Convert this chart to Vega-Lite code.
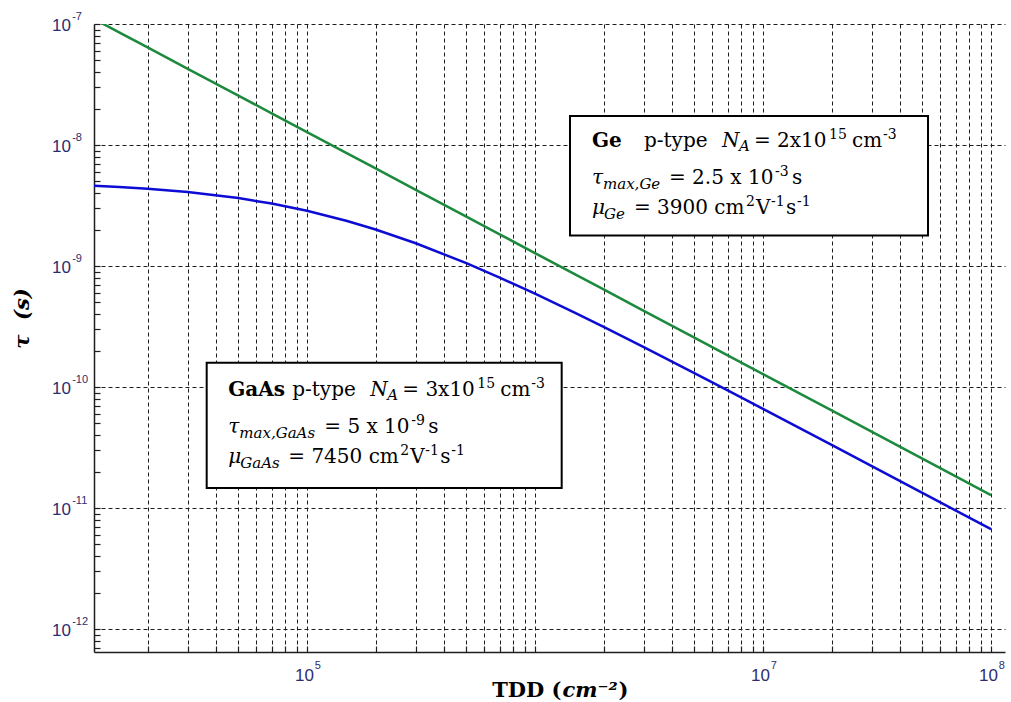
{
  "$schema": "https://vega.github.io/schema/vega-lite/v6.json",
  "width": 911,
  "height": 628,
  "autosize": {"type": "none"},
  "padding": {"left": 94, "top": 24, "right": 6, "bottom": 50},
  "background": "white",
  "config": {"view": {"stroke": null}},
  "data": {
    "values": [
      {"material": "Ge", "tdd": 11640, "tau": 1.0993e-7},
      {"material": "Ge", "tdd": 15000, "tau": 8.531e-8},
      {"material": "Ge", "tdd": 20000, "tau": 6.398e-8},
      {"material": "Ge", "tdd": 30000, "tau": 4.265e-8},
      {"material": "Ge", "tdd": 50000, "tau": 2.559e-8},
      {"material": "Ge", "tdd": 70000, "tau": 1.828e-8},
      {"material": "Ge", "tdd": 100000, "tau": 1.2796e-8},
      {"material": "Ge", "tdd": 150000, "tau": 8.531e-9},
      {"material": "Ge", "tdd": 200000, "tau": 6.398e-9},
      {"material": "Ge", "tdd": 300000, "tau": 4.265e-9},
      {"material": "Ge", "tdd": 500000, "tau": 2.559e-9},
      {"material": "Ge", "tdd": 700000, "tau": 1.828e-9},
      {"material": "Ge", "tdd": 1000000, "tau": 1.2796e-9},
      {"material": "Ge", "tdd": 1500000, "tau": 8.531e-10},
      {"material": "Ge", "tdd": 2000000, "tau": 6.398e-10},
      {"material": "Ge", "tdd": 3000000, "tau": 4.265e-10},
      {"material": "Ge", "tdd": 5000000, "tau": 2.559e-10},
      {"material": "Ge", "tdd": 7000000, "tau": 1.828e-10},
      {"material": "Ge", "tdd": 10000000, "tau": 1.2796e-10},
      {"material": "Ge", "tdd": 20000000, "tau": 6.398e-11},
      {"material": "Ge", "tdd": 50000000, "tau": 2.559e-11},
      {"material": "Ge", "tdd": 100000000, "tau": 1.2796e-11},
      {"material": "GaAs", "tdd": 11640, "tau": 4.600e-9},
      {"material": "GaAs", "tdd": 15000, "tau": 4.496e-9},
      {"material": "GaAs", "tdd": 20000, "tau": 4.350e-9},
      {"material": "GaAs", "tdd": 30000, "tau": 4.084e-9},
      {"material": "GaAs", "tdd": 50000, "tau": 3.640e-9},
      {"material": "GaAs", "tdd": 70000, "tau": 3.282e-9},
      {"material": "GaAs", "tdd": 100000, "tau": 2.861e-9},
      {"material": "GaAs", "tdd": 150000, "tau": 2.357e-9},
      {"material": "GaAs", "tdd": 200000, "tau": 2.004e-9},
      {"material": "GaAs", "tdd": 300000, "tau": 1.542e-9},
      {"material": "GaAs", "tdd": 500000, "tau": 1.055e-9},
      {"material": "GaAs", "tdd": 700000, "tau": 8.023e-10},
      {"material": "GaAs", "tdd": 1000000, "tau": 5.900e-10},
      {"material": "GaAs", "tdd": 1500000, "tau": 4.094e-10},
      {"material": "GaAs", "tdd": 2000000, "tau": 3.135e-10},
      {"material": "GaAs", "tdd": 3000000, "tau": 2.134e-10},
      {"material": "GaAs", "tdd": 5000000, "tau": 1.303e-10},
      {"material": "GaAs", "tdd": 7000000, "tau": 9.376e-11},
      {"material": "GaAs", "tdd": 10000000, "tau": 6.601e-11},
      {"material": "GaAs", "tdd": 20000000, "tau": 3.322e-11},
      {"material": "GaAs", "tdd": 50000000, "tau": 1.334e-11},
      {"material": "GaAs", "tdd": 100000000, "tau": 6.680e-12}
    ]
  },
  "resolve": {"axis": {"x": "independent", "y": "independent"}},
  "layer": [
    {
      "transform": [{"filter": "datum.material === 'Ge'"}],
      "mark": {"type": "line", "color": "#1c8a3c", "strokeWidth": 2.5, "clip": true},
      "encoding": {
        "x": {
          "field": "tdd", "type": "quantitative",
          "scale": {"type": "log", "domain": [11637, 115200000], "nice": false},
          "axis": {
            "orient": "bottom",
            "values": [20000, 30000, 40000, 50000, 60000, 70000, 80000, 90000, 100000, 200000, 300000, 400000, 500000, 600000, 700000, 800000, 900000, 1000000, 2000000, 3000000, 4000000, 5000000, 6000000, 7000000, 8000000, 9000000, 10000000, 20000000, 30000000, 40000000, 50000000, 60000000, 70000000, 80000000, 90000000, 100000000],
            "grid": true, "gridColor": "#1e1e1e", "gridDash": [4, 3], "gridWidth": 1,
            "domain": true, "domainColor": "#1e1e1e", "domainWidth": 1.5,
            "ticks": true, "tickSize": -6, "tickColor": "#1e1e1e", "tickWidth": 1.2,
            "labelExpr": "indexof([100000, 10000000, 100000000], datum.value) >= 0 ? '10' : ''",
            "labelFont": "Liberation Sans", "labelFontSize": 17, "labelColor": "#2d2d6e",
            "labelAlign": "center", "labelBaseline": "top", "labelPadding": 21, "labelOffset": -3,
            "labelOverlap": false, "labelFlush": false, "labelBound": false,
            "title": "TDD (", "titleFont": "DejaVu Serif", "titleFontSize": 21, "titleFontWeight": "bold",
            "titleColor": "black", "titleAlign": "right", "titleBaseline": "alphabetic",
            "titleX": 467, "titleY": 44, "titleAngle": 0
          }
        },
        "y": {
          "field": "tau", "type": "quantitative",
          "scale": {"type": "log", "domain": [6.457e-13, 1e-7], "nice": false},
          "axis": {
            "orient": "left",
            "values": [7e-13, 8e-13, 9e-13, 1e-12, 2e-12, 3e-12, 4e-12, 5e-12, 6e-12, 7e-12, 8e-12, 9e-12, 1e-11, 2e-11, 3e-11, 4e-11, 5e-11, 6e-11, 7e-11, 8e-11, 9e-11, 1e-10, 2e-10, 3e-10, 4e-10, 5e-10, 6e-10, 7e-10, 8e-10, 9e-10, 1e-9, 2e-9, 3e-9, 4e-9, 5e-9, 6e-9, 7e-9, 8e-9, 9e-9, 1e-8, 2e-8, 3e-8, 4e-8, 5e-8, 6e-8, 7e-8, 8e-8, 9e-8, 1e-7],
            "grid": true, "gridColor": "#1e1e1e", "gridDash": [4, 3], "gridWidth": 1,
            "gridOpacity": {"condition": {"test": "abs(log(datum.value)/LN10 - round(log(datum.value)/LN10)) < 0.001", "value": 1}, "value": 0},
            "domain": true, "domainColor": "#1e1e1e", "domainWidth": 1.5,
            "ticks": true, "tickSize": -6, "tickColor": "#1e1e1e", "tickWidth": 1.2,
            "labelExpr": "abs(log(datum.value)/LN10 - round(log(datum.value)/LN10)) < 0.001 ? '10' : ''",
            "labelFont": "Liberation Sans", "labelFontSize": 17, "labelColor": "#2d2d6e",
            "labelAlign": "right", "labelBaseline": "middle", "labelPadding": 29.5, "labelOffset": 1,
            "labelOverlap": false, "labelFlush": false, "labelBound": false,
            "title": "τ\u00a0 (s)", "titleFont": "DejaVu Serif", "titleFontSize": 21, "titleFontWeight": "bold",
            "titleFontStyle": "italic", "titleColor": "black", "titleAngle": 270,
            "titleAlign": "center", "titleBaseline": "middle", "titleX": -72, "titleY": 294
          }
        }
      }
    },
    {
      "transform": [{"filter": "datum.material === 'GaAs'"}],
      "mark": {"type": "line", "color": "#0c0cd4", "strokeWidth": 2.5, "clip": true},
      "encoding": {
        "x": {
          "field": "tdd", "type": "quantitative",
          "scale": {"type": "log", "domain": [11637, 115200000], "nice": false},
          "axis": {
            "orient": "bottom",
            "values": [100000, 10000000, 100000000],
            "grid": false, "domain": false, "ticks": false,
            "labelExpr": "'' + round(log(datum.value) / LN10)",
            "labelFont": "Liberation Sans", "labelFontSize": 11, "labelColor": "#2d2d6e",
            "labelAlign": "left", "labelBaseline": "top", "labelPadding": 7, "labelOffset": 7.3,
            "labelOverlap": false, "labelFlush": false, "labelBound": false,
            "title": "cm\u207b\u00b2", "titleFont": "DejaVu Serif", "titleFontSize": 21, "titleFontWeight": "bold",
            "titleFontStyle": "italic", "titleColor": "black", "titleAlign": "left", "titleBaseline": "alphabetic",
            "titleX": 468, "titleY": 44, "titleAngle": 0
          }
        },
        "y": {
          "field": "tau", "type": "quantitative",
          "scale": {"type": "log", "domain": [6.457e-13, 1e-7], "nice": false},
          "axis": {
            "orient": "left",
            "values": [1e-12, 1e-11, 1e-10, 1e-9, 1e-8, 1e-7],
            "grid": false, "domain": false, "ticks": false,
            "labelExpr": "'' + round(log(datum.value) / LN10)",
            "labelFont": "Liberation Sans", "labelFontSize": 11, "labelColor": "#2d2d6e",
            "labelAlign": "left", "labelBaseline": "middle", "labelPadding": 22.3, "labelOffset": -8,
            "labelOverlap": false, "labelFlush": false, "labelBound": false,
            "title": null
          }
        }
      }
    },
    {
      "data": {"values": [{}]},
      "mark": {"type": "rect", "fill": "white", "stroke": "black", "strokeWidth": 2},
      "encoding": {
        "x": {
          "datum": 36315, "type": "quantitative",
          "scale": {"type": "log", "domain": [11637, 115200000], "nice": false},
          "axis": {
            "orient": "bottom", "labels": false, "ticks": false, "domain": false, "grid": false,
            "title": ")", "titleFont": "DejaVu Serif", "titleFontSize": 21, "titleFontWeight": "bold",
            "titleColor": "black", "titleAlign": "left", "titleBaseline": "alphabetic",
            "titleX": 524, "titleY": 44, "titleAngle": 0
          }
        },
        "x2": {"datum": 1309400},
        "y": {"datum": 1.588e-10, "type": "quantitative", "scale": {"type": "log", "domain": [6.457e-13, 1e-7], "nice": false}, "axis": null},
        "y2": {"datum": 1.4634e-11}
      }
    },
    {
      "data": {"values": [{}]},
      "mark": {"type": "rect", "fill": "white", "stroke": "black", "strokeWidth": 2},
      "encoding": {
        "x": {"datum": 1424100, "type": "quantitative", "scale": {"type": "log", "domain": [11637, 115200000], "nice": false}, "axis": null},
        "x2": {"datum": 52938000},
        "y": {"datum": 1.7366e-8, "type": "quantitative", "scale": {"type": "log", "domain": [6.457e-13, 1e-7], "nice": false}, "axis": null},
        "y2": {"datum": 1.7866e-9}
      }
    },
    {
      "data": {"values": [{}]},
      "encoding": {
        "x": {"datum": 45160, "type": "quantitative", "scale": {"type": "log", "domain": [11637, 115200000], "nice": false}, "axis": null},
        "y": {"datum": 8.424e-11, "type": "quantitative", "scale": {"type": "log", "domain": [6.457e-13, 1e-7], "nice": false}, "axis": null}
      },
      "layer": [
        {"mark": {"type": "text", "text": "GaAs", "align": "left", "baseline": "alphabetic", "font": "DejaVu Serif", "fontSize": 20, "fontWeight": "bold", "color": "black", "dx": 0}},
        {"mark": {"type": "text", "text": "p-type", "align": "left", "baseline": "alphabetic", "font": "DejaVu Serif", "fontSize": 20, "color": "black", "dx": 64}},
        {"mark": {"type": "text", "text": "N", "align": "left", "baseline": "alphabetic", "font": "DejaVu Serif", "fontSize": 20, "fontStyle": "italic", "color": "black", "dx": 142}},
        {"mark": {"type": "text", "text": "A", "align": "left", "baseline": "alphabetic", "font": "DejaVu Serif", "fontSize": 15, "fontStyle": "italic", "color": "black", "dx": 159, "dy": 4}},
        {"mark": {"type": "text", "text": "= 3x10", "align": "left", "baseline": "alphabetic", "font": "DejaVu Serif", "fontSize": 20, "color": "black", "dx": 174}},
        {"mark": {"type": "text", "text": "15", "align": "left", "baseline": "alphabetic", "font": "DejaVu Serif", "fontSize": 14, "color": "black", "dx": 249, "dy": -8}},
        {"mark": {"type": "text", "text": "cm", "align": "left", "baseline": "alphabetic", "font": "DejaVu Serif", "fontSize": 20, "color": "black", "dx": 272}},
        {"mark": {"type": "text", "text": "-3", "align": "left", "baseline": "alphabetic", "font": "DejaVu Serif", "fontSize": 14, "color": "black", "dx": 303, "dy": -8}}
      ]
    },
    {
      "data": {"values": [{}]},
      "encoding": {
        "x": {"datum": 45160, "type": "quantitative", "scale": {"type": "log", "domain": [11637, 115200000], "nice": false}, "axis": null},
        "y": {"datum": 4.143e-11, "type": "quantitative", "scale": {"type": "log", "domain": [6.457e-13, 1e-7], "nice": false}, "axis": null}
      },
      "layer": [
        {"mark": {"type": "text", "text": "τ", "align": "left", "baseline": "alphabetic", "font": "DejaVu Serif", "fontSize": 20, "fontStyle": "italic", "color": "black", "dx": 0}},
        {"mark": {"type": "text", "text": "max,GaAs", "align": "left", "baseline": "alphabetic", "font": "DejaVu Serif", "fontSize": 15, "fontStyle": "italic", "color": "black", "dx": 11, "dy": 5}},
        {"mark": {"type": "text", "text": "= 5 x 10", "align": "left", "baseline": "alphabetic", "font": "DejaVu Serif", "fontSize": 20, "color": "black", "dx": 96}},
        {"mark": {"type": "text", "text": "-9", "align": "left", "baseline": "alphabetic", "font": "DejaVu Serif", "fontSize": 14, "color": "black", "dx": 183, "dy": -8}},
        {"mark": {"type": "text", "text": "s", "align": "left", "baseline": "alphabetic", "font": "DejaVu Serif", "fontSize": 20, "color": "black", "dx": 200}}
      ]
    },
    {
      "data": {"values": [{}]},
      "encoding": {
        "x": {"datum": 45160, "type": "quantitative", "scale": {"type": "log", "domain": [11637, 115200000], "nice": false}, "axis": null},
        "y": {"datum": 2.341e-11, "type": "quantitative", "scale": {"type": "log", "domain": [6.457e-13, 1e-7], "nice": false}, "axis": null}
      },
      "layer": [
        {"mark": {"type": "text", "text": "μ", "align": "left", "baseline": "alphabetic", "font": "DejaVu Serif", "fontSize": 20, "fontStyle": "italic", "color": "black", "dx": 0}},
        {"mark": {"type": "text", "text": "GaAs", "align": "left", "baseline": "alphabetic", "font": "DejaVu Serif", "fontSize": 15, "fontStyle": "italic", "color": "black", "dx": 12, "dy": 5}},
        {"mark": {"type": "text", "text": "= 7450 cm", "align": "left", "baseline": "alphabetic", "font": "DejaVu Serif", "fontSize": 20, "color": "black", "dx": 60}},
        {"mark": {"type": "text", "text": "2", "align": "left", "baseline": "alphabetic", "font": "DejaVu Serif", "fontSize": 14, "color": "black", "dx": 172, "dy": -8}},
        {"mark": {"type": "text", "text": "V", "align": "left", "baseline": "alphabetic", "font": "DejaVu Serif", "fontSize": 20, "color": "black", "dx": 182}},
        {"mark": {"type": "text", "text": "-1", "align": "left", "baseline": "alphabetic", "font": "DejaVu Serif", "fontSize": 14, "color": "black", "dx": 197, "dy": -8}},
        {"mark": {"type": "text", "text": "s", "align": "left", "baseline": "alphabetic", "font": "DejaVu Serif", "fontSize": 20, "color": "black", "dx": 212}},
        {"mark": {"type": "text", "text": "-1", "align": "left", "baseline": "alphabetic", "font": "DejaVu Serif", "fontSize": 14, "color": "black", "dx": 223, "dy": -8}}
      ]
    },
    {
      "data": {"values": [{}]},
      "encoding": {
        "x": {"datum": 1778300, "type": "quantitative", "scale": {"type": "log", "domain": [11637, 115200000], "nice": false}, "axis": null},
        "y": {"datum": 9.627e-9, "type": "quantitative", "scale": {"type": "log", "domain": [6.457e-13, 1e-7], "nice": false}, "axis": null}
      },
      "layer": [
        {"mark": {"type": "text", "text": "Ge", "align": "left", "baseline": "alphabetic", "font": "DejaVu Serif", "fontSize": 20, "fontWeight": "bold", "color": "black", "dx": 0}},
        {"mark": {"type": "text", "text": "p-type", "align": "left", "baseline": "alphabetic", "font": "DejaVu Serif", "fontSize": 20, "color": "black", "dx": 52}},
        {"mark": {"type": "text", "text": "N", "align": "left", "baseline": "alphabetic", "font": "DejaVu Serif", "fontSize": 20, "fontStyle": "italic", "color": "black", "dx": 130}},
        {"mark": {"type": "text", "text": "A", "align": "left", "baseline": "alphabetic", "font": "DejaVu Serif", "fontSize": 15, "fontStyle": "italic", "color": "black", "dx": 147, "dy": 4}},
        {"mark": {"type": "text", "text": "= 2x10", "align": "left", "baseline": "alphabetic", "font": "DejaVu Serif", "fontSize": 20, "color": "black", "dx": 162}},
        {"mark": {"type": "text", "text": "15", "align": "left", "baseline": "alphabetic", "font": "DejaVu Serif", "fontSize": 14, "color": "black", "dx": 237, "dy": -8}},
        {"mark": {"type": "text", "text": "cm", "align": "left", "baseline": "alphabetic", "font": "DejaVu Serif", "fontSize": 20, "color": "black", "dx": 260}},
        {"mark": {"type": "text", "text": "-3", "align": "left", "baseline": "alphabetic", "font": "DejaVu Serif", "fontSize": 14, "color": "black", "dx": 291, "dy": -8}}
      ]
    },
    {
      "data": {"values": [{}]},
      "encoding": {
        "x": {"datum": 1778300, "type": "quantitative", "scale": {"type": "log", "domain": [11637, 115200000], "nice": false}, "axis": null},
        "y": {"datum": 4.761e-9, "type": "quantitative", "scale": {"type": "log", "domain": [6.457e-13, 1e-7], "nice": false}, "axis": null}
      },
      "layer": [
        {"mark": {"type": "text", "text": "τ", "align": "left", "baseline": "alphabetic", "font": "DejaVu Serif", "fontSize": 20, "fontStyle": "italic", "color": "black", "dx": 0}},
        {"mark": {"type": "text", "text": "max,Ge", "align": "left", "baseline": "alphabetic", "font": "DejaVu Serif", "fontSize": 15, "fontStyle": "italic", "color": "black", "dx": 11, "dy": 5}},
        {"mark": {"type": "text", "text": "= 2.5 x 10", "align": "left", "baseline": "alphabetic", "font": "DejaVu Serif", "fontSize": 20, "color": "black", "dx": 77}},
        {"mark": {"type": "text", "text": "-3", "align": "left", "baseline": "alphabetic", "font": "DejaVu Serif", "fontSize": 14, "color": "black", "dx": 183, "dy": -8}},
        {"mark": {"type": "text", "text": "s", "align": "left", "baseline": "alphabetic", "font": "DejaVu Serif", "fontSize": 20, "color": "black", "dx": 200}}
      ]
    },
    {
      "data": {"values": [{}]},
      "encoding": {
        "x": {"datum": 1778300, "type": "quantitative", "scale": {"type": "log", "domain": [11637, 115200000], "nice": false}, "axis": null},
        "y": {"datum": 2.690e-9, "type": "quantitative", "scale": {"type": "log", "domain": [6.457e-13, 1e-7], "nice": false}, "axis": null}
      },
      "layer": [
        {"mark": {"type": "text", "text": "μ", "align": "left", "baseline": "alphabetic", "font": "DejaVu Serif", "fontSize": 20, "fontStyle": "italic", "color": "black", "dx": 0}},
        {"mark": {"type": "text", "text": "Ge", "align": "left", "baseline": "alphabetic", "font": "DejaVu Serif", "fontSize": 15, "fontStyle": "italic", "color": "black", "dx": 12, "dy": 5}},
        {"mark": {"type": "text", "text": "= 3900 cm", "align": "left", "baseline": "alphabetic", "font": "DejaVu Serif", "fontSize": 20, "color": "black", "dx": 42}},
        {"mark": {"type": "text", "text": "2", "align": "left", "baseline": "alphabetic", "font": "DejaVu Serif", "fontSize": 14, "color": "black", "dx": 154, "dy": -8}},
        {"mark": {"type": "text", "text": "V", "align": "left", "baseline": "alphabetic", "font": "DejaVu Serif", "fontSize": 20, "color": "black", "dx": 164}},
        {"mark": {"type": "text", "text": "-1", "align": "left", "baseline": "alphabetic", "font": "DejaVu Serif", "fontSize": 14, "color": "black", "dx": 179, "dy": -8}},
        {"mark": {"type": "text", "text": "s", "align": "left", "baseline": "alphabetic", "font": "DejaVu Serif", "fontSize": 20, "color": "black", "dx": 194}},
        {"mark": {"type": "text", "text": "-1", "align": "left", "baseline": "alphabetic", "font": "DejaVu Serif", "fontSize": 14, "color": "black", "dx": 205, "dy": -8}}
      ]
    }
  ]
}
